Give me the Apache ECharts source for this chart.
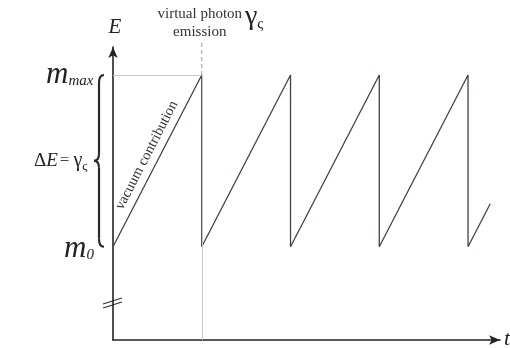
<!DOCTYPE html>
<html><head><meta charset="utf-8">
<script src="https://cdn.jsdelivr.net/npm/echarts@6/dist/echarts.min.js"></script>
<style>html,body{margin:0;padding:0;background:#fff}#c{width:510px;height:348px}</style>
</head><body><div id="c"></div>
<script>
// sawtooth: time (in emission periods) and energy (0 = m0, 1 = mmax)
var times  = [0, 1, 1, 2, 2, 3, 3, 4, 4, 4.25];
var energy = [0, 1, 0, 1, 0, 1, 0, 1, 0, 0.25];
var emissionT = 1;
var levelLow = 0, levelHigh = 1;

(function(){
var serif = '"Liberation Serif","DejaVu Serif",serif';
var chart = echarts.init(document.getElementById('c'), null, {renderer:'canvas'});
var data = times.map(function(t,i){return [t, energy[i]];});
chart.setOption({
  animation:false,
  grid:{left:113, right:10, top:47, bottom:8, containLabel:false},
  xAxis:{type:'value', min:0, max:4.36, splitLine:{show:false}, axisTick:{show:false}, axisLabel:{show:false},
    axisLine:{onZero:false, symbol:['none','arrow'], symbolSize:[7,11], lineStyle:{color:'#222', width:1.6}}},
  yAxis:{type:'value', min:-0.543, max:1.163, splitLine:{show:false}, axisTick:{show:false}, axisLabel:{show:false},
    axisLine:{onZero:false, symbol:['none','arrow'], symbolSize:[7,11], lineStyle:{color:'#222', width:1.6}}},
  series:[{
    type:'line', data:data, showSymbol:false, symbol:'none', clip:false, z:3,
    lineStyle:{color:'#3b474c', width:1.3},
    markLine:{silent:true, symbol:'none', label:{show:false},
      lineStyle:{color:'#c8c8c8', width:1, type:'solid'},
      data:[
        [{coord:[0, levelHigh]},{coord:[emissionT, levelHigh]}],
        [{coord:[emissionT, -0.543]},{coord:[emissionT, levelHigh]}]
      ]}
  }]
});

function P(x,y){return chart.convertToPixel({gridIndex:0},[x,y]);}
var pTop = P(0, levelHigh), pBot = P(0, levelLow), pEm = P(emissionT, levelHigh);
var yT = pTop[1], yB = pBot[1], yM = (yT+yB)/2;
var bx = 99;
var bs = {stroke:'#2a2a2a', lineWidth:2.2, fill:null};
function bz(a,b,c,d,e,f){return {type:'bezierCurve', shape:{x1:a,y1:b,cpx1:c,cpy1:d,x2:e,y2:f}, style:bs};}
function ln(a,b,c,d,st){return {type:'line', shape:{x1:a,y1:b,x2:c,y2:d}, style:st||bs};}
var pMid = P(emissionT/2, (levelLow+levelHigh)/2);
var ang = Math.atan2(yB-yT, pEm[0]-pBot[0]);
var off = 12;
var tx = pMid[0] - off*Math.sin(ang), ty = pMid[1] - off*Math.cos(ang);
var ax = P(0,-0.31);
var thin = {stroke:'#333', lineWidth:1.2};

chart.setOption({graphic:[
  ln(pEm[0], yT, pEm[0], 41, {stroke:'#999', lineWidth:1, lineDash:[4,3]}),
  bz(bx+5, yT, bx, yT, bx, yT+8),
  ln(bx, yT+8, bx, yM-7),
  bz(bx, yM-7, bx, yM, bx-5, yM),
  bz(bx-5, yM, bx, yM, bx, yM+7),
  ln(bx, yM+7, bx, yB-8),
  bz(bx, yB-8, bx, yB, bx+5, yB),
  ln(ax[0]-10, ax[1]+4, ax[0]+9, ax[1]-2, thin),
  ln(ax[0]-10, ax[1]+8, ax[0]+9, ax[1]+2, thin),
  {type:'text', x:pTop[0]+2, y:27, style:{text:'E', font:'italic 21px '+serif, fill:'#222', textAlign:'center', textVerticalAlign:'middle'}},
  {type:'text', x:pEm[0]-2, y:14, style:{text:'virtual photon', font:'15px '+serif, fill:'#333', textAlign:'center', textVerticalAlign:'middle'}},
  {type:'text', x:pEm[0]-2, y:32, style:{text:'emission', font:'15px '+serif, fill:'#333', textAlign:'center', textVerticalAlign:'middle'}},
  {type:'text', x:245, y:17, style:{text:'{g|γ}{s|ς}', fill:'#222', textVerticalAlign:'middle',
     rich:{g:{font:'28px '+serif, fill:'#222'}, s:{font:'15px '+serif, fill:'#222', padding:[14,0,0,0]}}}},
  {type:'text', x:46, y:yT, style:{text:'{m|m}{s|max}', textVerticalAlign:'middle',
     rich:{m:{font:'italic 31px '+serif, fill:'#222'}, s:{font:'italic 15px '+serif, fill:'#222', padding:[12,0,0,0]}}}},
  {type:'text', x:34, y:yM, style:{text:'{d|Δ}{e|E}{q|=}{g|γ}{s|ς}', textVerticalAlign:'middle',
     rich:{d:{font:'19px '+serif, fill:'#222'}, e:{font:'italic 19px '+serif, fill:'#222'},
           q:{font:'17px '+serif, fill:'#444', padding:[0,4,0,2]},
           g:{font:'20px '+serif, fill:'#222'}, s:{font:'13px '+serif, fill:'#222', padding:[11,0,0,0]}}}},
  {type:'text', x:64, y:yB+2, style:{text:'{m|m}{s|0}', textVerticalAlign:'middle',
     rich:{m:{font:'italic 31px '+serif, fill:'#222'}, s:{font:'italic 15px '+serif, fill:'#222', padding:[13,0,0,0]}}}},
  {type:'text', x:tx, y:ty, rotation:ang, style:{text:'vacuum contribution', font:'14.5px '+serif, fill:'#333', textAlign:'center', textVerticalAlign:'middle'}},
  {type:'text', x:504, y:339, style:{text:'t', font:'italic 22px '+serif, fill:'#222', textVerticalAlign:'middle'}}
]});
})();
</script></body></html>
